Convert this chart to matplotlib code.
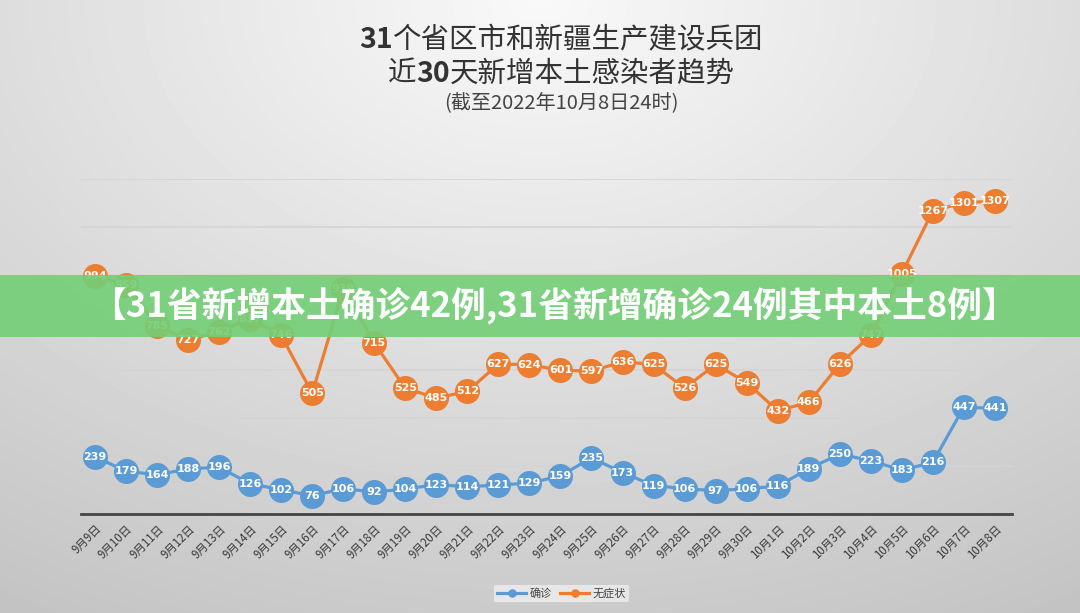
import numpy as np
import matplotlib
matplotlib.use("Agg")
import matplotlib.pyplot as plt

plt.rcParams['font.family'] = ['Noto Sans CJK SC', 'DejaVu Sans']

# data
dates = ['9月9日', '9月10日', '9月11日', '9月12日', '9月13日', '9月14日', '9月15日',
         '9月16日', '9月17日', '9月18日', '9月19日', '9月20日', '9月21日', '9月22日',
         '9月23日', '9月24日', '9月25日', '9月26日', '9月27日', '9月28日', '9月29日',
         '9月30日', '10月1日', '10月2日', '10月3日', '10月4日', '10月5日', '10月6日',
         '10月7日', '10月8日']
confirmed = [239, 179, 164, 188, 196, 126, 102, 76, 106, 92, 104, 123, 114, 121, 129,
             159, 235, 173, 119, 106, 97, 106, 116, 189, 250, 223, 183, 216, 447, 441]
asymptomatic = [994, 959, 785, 727, 762, 817, 746, 505, 939, 715, 525, 485, 512, 627, 624,
                601, 597, 636, 625, 526, 625, 549, 432, 466, 626, 747, 1005, 1267, 1301, 1307]

blue = '#5b9bd5'
orange = '#ed7d31'

fig = plt.figure(figsize=(10.8, 6.13), dpi=100)
renderer = fig.canvas.get_renderer()


def mixed_line(parts, y, size, color, cx=0.52):
    # draw one centred title line made of (text, weight) pieces
    texts = [fig.text(0, y, s, fontsize=size, fontweight=w, color=color, va='center')
             for s, w in parts]
    widths = [t.get_window_extent(renderer).width for t in texts]
    x0 = cx * fig.bbox.width - sum(widths) / 2
    for t, w in zip(texts, widths):
        t.set_x(x0 / fig.bbox.width)
        x0 += w


# soft grey background gradient
bg = fig.add_axes([0, 0, 1, 1], zorder=-10)
yy, xx = np.mgrid[0:1:200j, 0:1:360j]
r = np.sqrt(((xx - 0.5) * 1.15) ** 2 + (yy * 0.95) ** 2)
shade = 0.975 - 0.19 * np.clip(r, 0, 1.2)
bg.imshow(shade, cmap='gray', vmin=0, vmax=1, aspect='auto', extent=[0, 1, 1, 0])
bg.set_axis_off()

ax = fig.add_axes([0.075, 0.1615, 0.862, 0.5465])
ax.patch.set_alpha(0)
x = np.arange(len(dates))

ax.plot(x, asymptomatic, color=orange, lw=2.3, marker='o', ms=17, mec=orange,
        mfc=orange, label='无症状', zorder=3)
ax.plot(x, confirmed, color=blue, lw=2.3, marker='o', ms=17, mec=blue,
        mfc=blue, label='确诊', zorder=3)

for xi, v in zip(x, asymptomatic):
    ax.text(xi, v, str(v), color='white', fontsize=8, fontweight='bold',
            ha='center', va='center', family='DejaVu Sans', zorder=4)
for xi, v in zip(x, confirmed):
    ax.text(xi, v, str(v), color='white', fontsize=8, fontweight='bold',
            ha='center', va='center', family='DejaVu Sans', zorder=4)

ax.set_xlim(-0.45, 29.55)
ax.set_ylim(0, 1400)
ax.set_yticks(np.arange(0, 1401, 200))
ax.yaxis.grid(True, color='#d4d4d4', lw=1.2)
ax.set_axisbelow(True)
ax.tick_params(axis='y', left=False, labelleft=False)
ax.tick_params(axis='x', length=0, pad=6)
ax.set_xticks(x)
ax.set_xticklabels(dates, rotation=45, ha='right', rotation_mode='anchor',
                   fontsize=8.3, color='#3a3a3a')
for s in ['top', 'right', 'left']:
    ax.spines[s].set_visible(False)
ax.spines['bottom'].set_color('#444444')
ax.spines['bottom'].set_linewidth(2)

handles, labels = ax.get_legend_handles_labels()
leg = fig.legend(handles[::-1], labels[::-1], loc='center', bbox_to_anchor=(0.52, 0.032),
                 ncol=2, fontsize=8, frameon=True, handlelength=2.6, markerscale=0.3,
                 columnspacing=0.8, handletextpad=0.3, borderpad=0.3)
leg.get_frame().set_facecolor('#eeeeee')
leg.get_frame().set_edgecolor('none')
leg.get_frame().set_alpha(0.8)
for t in leg.get_texts():
    t.set_color('#444444')

# title
mixed_line([('31', 'bold'), ('个省区市和新疆生产建设兵团', 'normal')], 0.934, 20.5, '#333333')
mixed_line([('近', 'normal'), ('30', 'bold'), ('天新增本土感染者趋势', 'normal')], 0.880,
           20.5, '#333333')
mixed_line([('(截至2022年10月8日24时)', 'normal')], 0.831, 14.5, '#444444')

# green headline banner
fig.patches.append(plt.Rectangle((0, 0.4502), 1, 0.101, transform=fig.transFigure,
                                 facecolor='#72cf76', alpha=0.9, edgecolor='none', zorder=5))
fig.text(0.513, 0.5, '【31省新增本土确诊42例,31省新增确诊24例其中本土8例】', ha='center',
         va='center', fontsize=25, color='white', fontweight='bold', zorder=6)

fig.savefig('out.png', dpi=100)
